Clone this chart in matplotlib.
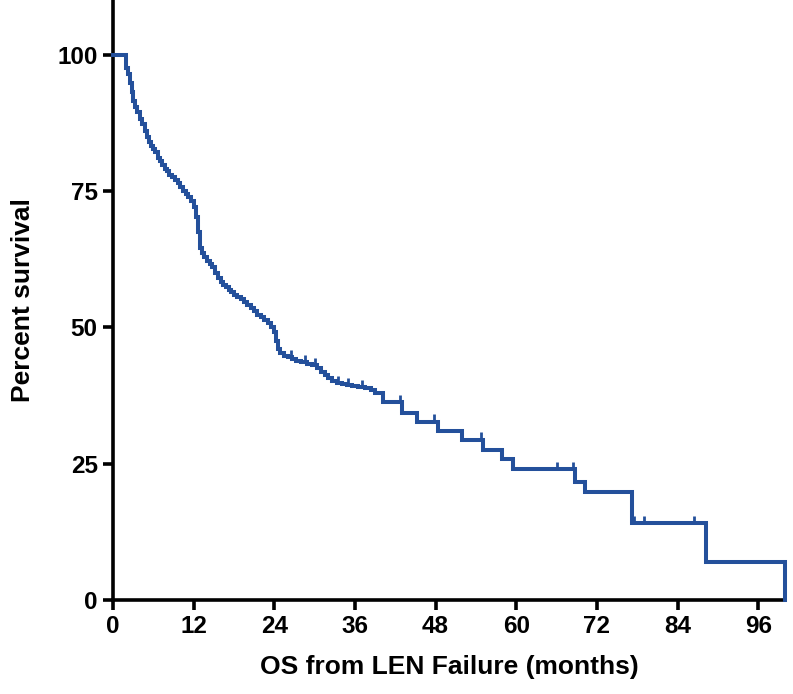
import matplotlib
matplotlib.use("Agg")
import matplotlib.pyplot as plt

# Kaplan-Meier step values (months, percent survival)
event_months = [0, 1.9, 2.2, 2.5, 2.8, 3.0, 3.3, 3.6, 4.0, 4.3, 4.7, 5.0, 5.3, 5.6,
                6.0, 6.3, 6.7, 7.0, 7.3, 7.7, 8.0, 8.4, 8.8, 9.2, 9.6, 10.0, 10.4,
                10.8, 11.2, 11.6, 12.0, 12.3, 12.6, 12.9, 13.2, 13.6, 14.0, 14.4,
                14.8, 15.2, 15.6, 16.0, 16.4, 16.8, 17.2, 17.6, 18.0, 18.5, 19.0,
                19.5, 20.0, 20.5, 21.0, 21.5, 22.0, 22.5, 23.0, 23.5, 24.0, 24.3,
                24.6, 24.9, 25.4, 26.0, 26.6, 27.3, 28.0, 28.8, 29.6, 30.4, 31.0,
                31.5, 32.0, 32.6, 33.3, 34.0, 34.8, 35.6, 36.5, 37.5, 38.4, 39.0,
                40.2, 43.0, 45.2, 48.4, 51.9, 55.1, 57.9, 59.5, 68.8, 70.2, 77.2,
                88.2, 100.0]
percent_survival = [100, 97.5, 96.5, 94.8, 93.2, 91.5, 90.4, 89.4, 88.2, 87.2, 86.0,
                    84.9, 84.0, 83.3, 82.7, 82.1, 81.0, 80.4, 79.7, 79.1, 78.6, 78.0,
                    77.5, 77.0, 76.4, 75.8, 75.0, 74.4, 73.8, 73.1, 72.0, 70.3, 67.5,
                    64.6, 63.6, 62.9, 62.2, 61.6, 61.0, 59.9, 59.0, 58.3, 57.8, 57.3,
                    56.8, 56.4, 56.0, 55.6, 55.1, 54.6, 54.0, 53.5, 52.9, 52.3, 51.8,
                    51.3, 50.7, 50.0, 49.2, 47.5, 46.0, 45.2, 44.8, 44.5, 44.2, 43.9,
                    43.6, 43.3, 43.0, 42.5, 41.8, 41.2, 40.7, 40.2, 39.8, 39.6, 39.4,
                    39.2, 39.0, 38.8, 38.5, 38.0, 36.3, 34.3, 32.7, 31.0, 29.4, 27.5,
                    25.9, 24.0, 21.7, 19.8, 14.1, 7.0, 0.0]

# censored observations (tick marks)
censor_months = [26.5, 28.5, 30.0, 33.5, 35.0, 37.0, 42.7, 47.8, 54.7, 66.0, 68.4,
                 77.5, 79.0, 86.5]
censor_survival = [44.5, 43.6, 43.0, 39.8, 39.4, 39.0, 36.3, 32.7, 29.4, 24.0, 24.0,
                   14.1, 14.1, 14.1]

x_ticks = [0, 12, 24, 36, 48, 60, 72, 84, 96]
y_ticks = [0, 25, 50, 75, 100]

blue = "#24509b"
plt.rcParams["font.family"] = ["Liberation Sans", "DejaVu Sans"]

fig = plt.figure(figsize=(7.93, 6.94), dpi=100)
ax = fig.add_axes([0.1425, 0.1355, 0.8475, 0.8645])

ax.plot(event_months, percent_survival, drawstyle="steps-post", color=blue,
        lw=2.9, solid_joinstyle="miter", clip_on=False, zorder=3)
ax.plot(censor_months, [s + 0.8 for s in censor_survival], ls="none", marker="|",
        color=blue, markersize=5, markeredgewidth=2, clip_on=False, zorder=3)

ax.set_xlim(0, 100)
ax.set_ylim(0, 110)
ax.set_xticks(x_ticks)
ax.set_yticks(y_ticks)

for side in ["top", "right"]:
    ax.spines[side].set_visible(False)
for side in ["left", "bottom"]:
    ax.spines[side].set_linewidth(2.6)
    ax.spines[side].set_zorder(2)

ax.tick_params(axis="both", direction="out", length=7, width=2.6, pad=4,
               labelsize=17.5)
for lab in ax.get_xticklabels() + ax.get_yticklabels():
    lab.set_fontweight("bold")

ax.set_xlabel("OS from LEN Failure (months)", fontsize=19, fontweight="bold",
              labelpad=12)
ax.set_ylabel("Percent survival", fontsize=19, fontweight="bold", labelpad=16)

fig.savefig("out.png", dpi=100)
